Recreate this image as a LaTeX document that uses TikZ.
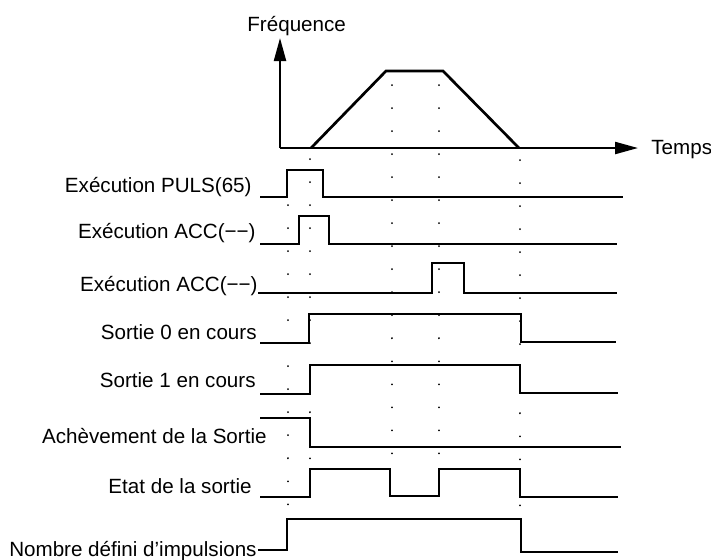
\documentclass[tikz,border=0pt]{standalone}
\usepackage{fontspec}
\setmainfont{Liberation Sans}
\usetikzlibrary{arrows.meta}
\begin{document}
\begin{tikzpicture}[x=0.5pt,y=-0.5pt,
  lbl/.style={anchor=base east,inner sep=0pt,font=\fontsize{10.3}{12}\selectfont},
  sig/.style={line width=1.15pt,line join=miter},
  axis/.style={line width=1.1pt,-{Triangle[length=11.5pt,width=6pt]}},
  dotcol/.style={line width=1pt,line cap=round,dash pattern=on 0.01pt off 11.5pt}]
\useasboundingbox (0,0) rectangle (711,559);
% dotted guide columns
\draw[dotcol] (288,205) -- (288,512);
\draw[dotcol] (310,159) -- (310,464);
\draw[dotcol] (392,85) -- (392,460);
\draw[dotcol] (439,85) -- (439,462);
\draw[dotcol] (520,160) -- (520,510);
% frequency graph
\coordinate (o) at (280,148);
\coordinate (ytip) at (280,38);
\coordinate (xtip) at (638,148);
\draw[axis] (o) -- (ytip);
\draw[axis] (o) -- (xtip);
\draw[line width=1.35pt,line join=miter] (311,148) -- (386,71) -- (443,71) -- (519,148);
\node[anchor=base west,inner sep=0pt,font=\fontsize{10.3}{12}\selectfont] (freq) at (247,31) {Fréquence};
\node[anchor=base west,inner sep=0pt,font=\fontsize{10.3}{12}\selectfont] (temps) at (651,154) {Temps};
% labels
\node[lbl] (l1) at (252,192) {Exécution PULS(65)};
\node[lbl] (l2) at (256,238) {Exécution ACC(−−)};
\node[lbl] (l3) at (258,291) {Exécution ACC(−−)};
\node[lbl] (l4) at (257,339) {Sortie 0 en cours};
\node[lbl] (l5) at (256,387) {Sortie 1 en cours};
\node[lbl] (l6) at (267,443) {Achèvement de la Sortie};
\node[lbl] (l7) at (252,493) {Etat de la sortie};
\node[lbl] (l8) at (257,556) {Nombre défini d’impulsions};
% signals
\draw[sig] (260,197) -- (287,197) -- (287,170) -- (323,170) -- (323,197) -- (623,197);
\draw[sig] (260,244) -- (299,244) -- (299,216) -- (329,216) -- (329,244) -- (617,244);
\draw[sig] (258,293) -- (432,293) -- (432,263) -- (464,263) -- (464,293) -- (617,293);
\draw[sig] (260,343) -- (309,343) -- (309,314) -- (521,314) -- (521,342) -- (616,342);
\draw[sig] (260,394) -- (310,394) -- (310,365) -- (520,365) -- (520,393) -- (618,393);
\draw[sig] (260,418) -- (310,418) -- (310,447) -- (621,447);
\draw[sig] (260,497) -- (310,497) -- (310,469) -- (390,469) -- (390,496) -- (439,496) -- (439,469) -- (520,469) -- (520,497) -- (618,497);
\draw[sig] (258,550) -- (287,550) -- (287,519) -- (521,519) -- (521,552) -- (618,552);
\end{tikzpicture}
\end{document}
